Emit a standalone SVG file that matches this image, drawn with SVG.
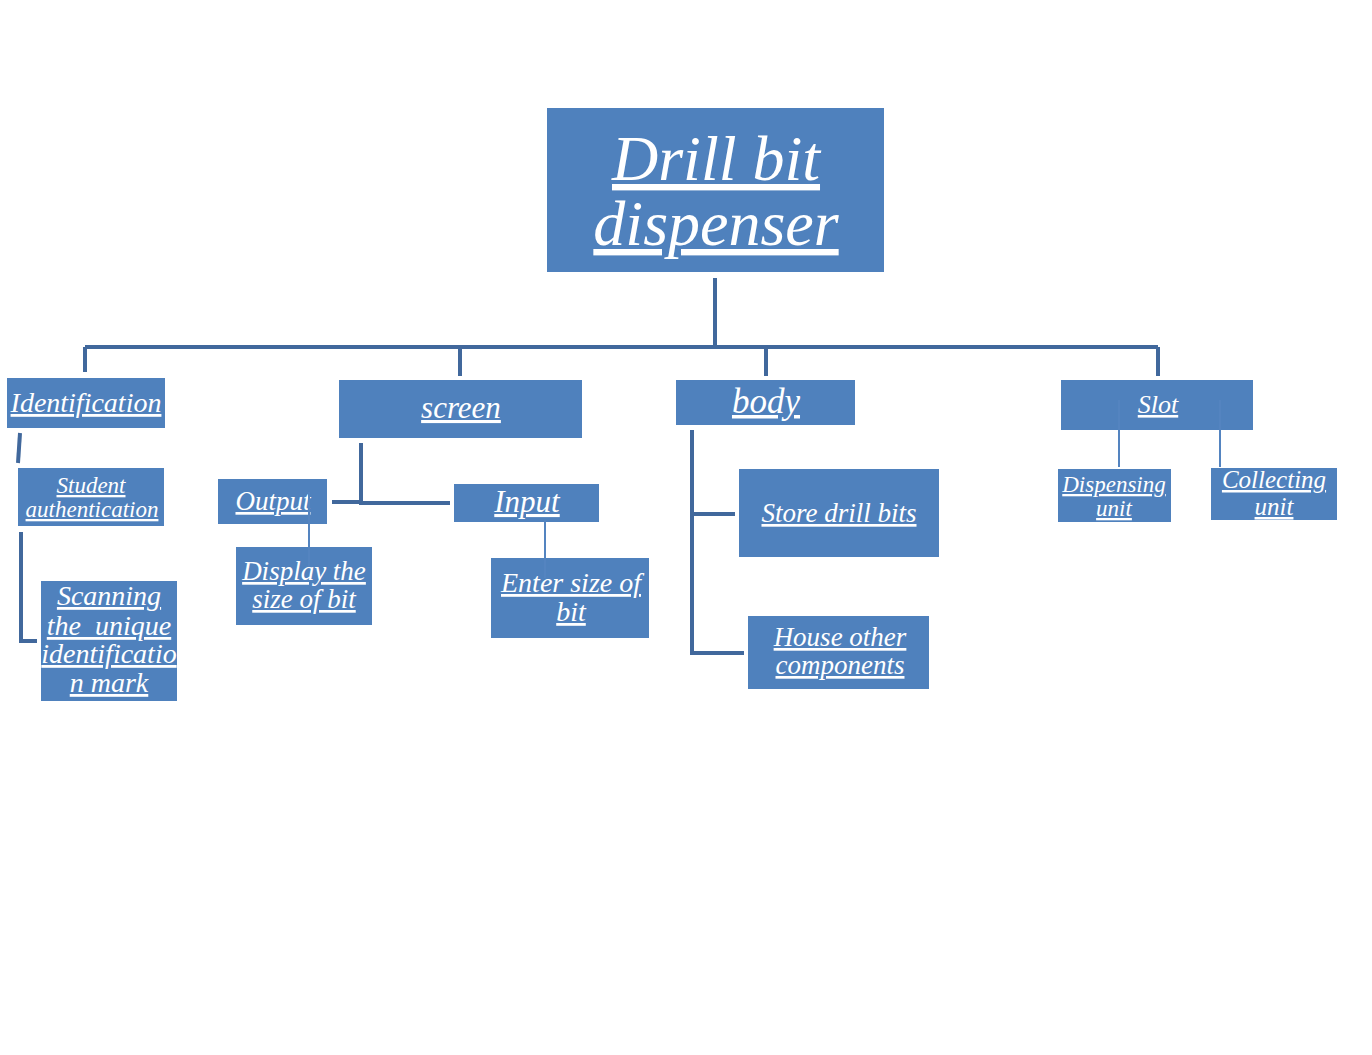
<svg xmlns="http://www.w3.org/2000/svg" width="1372" height="1055" viewBox="0 0 1372 1055">
<style>
.box{fill:#4f81bd}
.t{fill:#ffffff;font-family:"Liberation Serif","Times New Roman",serif;font-style:italic;text-decoration:underline;text-anchor:middle}
.c{fill:none;stroke:#41689c;stroke-width:4}
.thin{fill:none;stroke:#5484c0;stroke-width:2}
</style>
<rect width="1372" height="1055" fill="#ffffff"/>
<g id="root"><rect class="box" x="547" y="108" width="337" height="164"/>
<text class="t" x="716" y="180" font-size="64">Drill bit</text>
<text class="t" x="716" y="245" font-size="64">dispenser</text></g>
<g id="identification"><rect class="box" x="7" y="378" width="158" height="50"/>
<text class="t" x="86" y="412" font-size="28">Identification</text></g>
<g id="student"><rect class="box" x="18" y="468" width="146" height="58"/>
<text class="t" x="91" y="493" font-size="23">Student</text>
<text class="t" x="92" y="517" font-size="23">authentication</text></g>
<g id="scanning"><rect class="box" x="41" y="581" width="136" height="120"/>
<text class="t" x="109" y="605" font-size="28">Scanning</text>
<text class="t" x="109" y="635" font-size="28" xml:space="preserve">the  unique</text>
<text class="t" x="109" y="663" font-size="28">identificatio</text>
<text class="t" x="109" y="692" font-size="28">n mark</text></g>
<g id="screen"><rect class="box" x="339" y="380" width="243" height="58"/>
<text class="t" x="461" y="418" font-size="31">screen</text></g>
<g id="output"><rect class="box" x="218" y="479" width="109" height="45"/>
<text class="t" x="273" y="510" font-size="27">Output</text></g>
<g id="display"><rect class="box" x="236" y="547" width="136" height="78"/>
<text class="t" x="304" y="580" font-size="27">Display the</text>
<text class="t" x="304" y="608" font-size="27">size of bit</text></g>
<g id="input"><rect class="box" x="454" y="484" width="145" height="38"/>
<text class="t" x="527" y="512" font-size="31">Input</text></g>
<g id="enter"><rect class="box" x="491" y="558" width="158" height="80"/>
<text class="t" x="571" y="592" font-size="28">Enter size of</text>
<text class="t" x="571" y="621" font-size="28">bit</text></g>
<g id="body"><rect class="box" x="676" y="380" width="179" height="45"/>
<text class="t" x="766" y="413" font-size="35">body</text></g>
<g id="store"><rect class="box" x="739" y="469" width="200" height="88"/>
<text class="t" x="839" y="522" font-size="27">Store drill bits</text></g>
<g id="house"><rect class="box" x="748" y="616" width="181" height="73"/>
<text class="t" x="840" y="646" font-size="27">House other</text>
<text class="t" x="840" y="674" font-size="27">components</text></g>
<g id="slot"><rect class="box" x="1061" y="380" width="192" height="50"/>
<text class="t" x="1158" y="413" font-size="26">Slot</text></g>
<g id="dispensing"><rect class="box" x="1058" y="469" width="113" height="53"/>
<text class="t" x="1114" y="492" font-size="23">Dispensing</text>
<text class="t" x="1114" y="516" font-size="23">unit</text></g>
<g id="collecting"><rect class="box" x="1211" y="468" width="126" height="52"/>
<text class="t" x="1274" y="488" font-size="25">Collecting</text>
<text class="t" x="1274" y="515" font-size="25">unit</text></g>
<g id="connectors">
<path class="c" d="M715 278V347M85 347H1158M85 347V372M460 347V376M766 347V376M1158 347V376"/>
<path class="c" d="M20 433L18 463"/>
<path class="c" d="M21 532V641H37"/>
<path class="c" d="M361 443V503H450M332 502H361"/>
<path class="c" d="M692 430V653H744M692 514H735"/>
<path class="thin" d="M309 492V567"/>
<path class="thin" d="M545 520V578"/>
<path class="thin" d="M1119 400V467M1220 400V467"/>
</g>
</svg>
